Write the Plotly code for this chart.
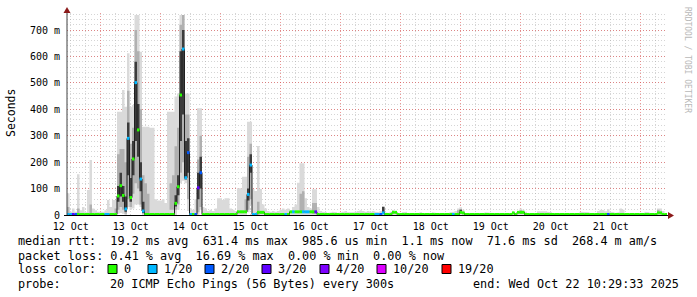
import plotly.graph_objects as go
from datetime import datetime, timedelta

# ---------------- data (hourly consolidated SmokePing values, ms) ----------------
start_time = datetime(2025, 10, 12, 10, 29, 33)
n_hours = 240

median_ms = [
    2, 2, 2, 2, 2, 2, 2, 2, 2, 2, 2, 2, 2, 2, 2, 2, 2, 2, 2, 2, 72, 111, 74, 23,
    290, 66, 212, 501, 322, 136, 15, 2, 2, 2, 2, 2, 2, 2, 2, 2, 2, 2, 2, 44, 107, 454, 628, 141,
    236, 2, 2, 2, 103, 160, 2, 2, 2, 2, 2, 2, 2, 2, 2, 2, 2, 2, 2, 2, 12, 12, 12, 12,
    78, 189, 2, 2, 10, 10, 10, 2, 2, 2, 2, 2, 2, 2, 2, 2, 2, 12, 12, 12, 12, 12, 12, 12,
    12, 12, 12, 12, 2, 2, 2, 2, 2, 2, 2, 2, 2, 2, 2, 2, 2, 2, 2, 2, 2, 2, 2, 2,
    2, 2, 2, 2, 2, 2, 8, 2, 2, 2, 10, 10, 2, 2, 2, 2, 2, 2, 2, 2, 2, 2, 2, 2,
    2, 2, 2, 2, 2, 2, 2, 2, 2, 2, 2, 2, 2, 10, 8, 2, 2, 2, 2, 2, 2, 2, 2, 2,
    2, 2, 2, 2, 2, 2, 2, 2, 2, 2, 8, 2, 10, 10, 10, 2, 2, 2, 2, 2, 2, 2, 2, 2,
    2, 2, 2, 2, 2, 2, 2, 2, 2, 2, 2, 2, 2, 2, 2, 2, 2, 2, 2, 2, 2, 2, 2, 2,
    2, 2, 2, 2, 2, 2, 2, 2, 2, 2, 2, 2, 2, 2, 2, 2, 2, 2, 2, 2, 8, 8, 2, 2,
]

loss_count = [
    1, 1, 3, 2, 0, 0, 0, 0, 0, 0, 0, 0, 0, 0, 0, 1, 1, 0, 0, 0, 0, 0, 0, 1,
    1, 0, 0, 1, 0, 1, 1, 0, 0, 0, 0, 0, 0, 0, 0, 0, 0, 0, 0, 0, 0, 0, 1, 1,
    2, 1, 0, 2, 3, 2, 0, 0, 0, 0, 0, 0, 0, 0, 0, 0, 0, 0, 0, 0, 0, 0, 0, 0,
    1, 1, 1, 1, 0, 0, 0, 0, 0, 0, 0, 0, 0, 0, 0, 1, 0, 0, 1, 0, 0, 0, 1, 1,
    1, 0, 0, 3, 0, 0, 0, 0, 0, 0, 0, 0, 0, 0, 0, 0, 0, 0, 0, 0, 0, 0, 0, 0,
    0, 0, 0, 1, 1, 2, 1, 0, 0, 0, 0, 0, 0, 0, 0, 0, 0, 0, 0, 0, 0, 0, 0, 0,
    0, 0, 0, 0, 0, 0, 0, 0, 0, 0, 1, 0, 0, 0, 0, 0, 0, 0, 0, 0, 0, 0, 0, 0,
    0, 0, 0, 0, 0, 0, 0, 0, 0, 0, 0, 0, 0, 0, 0, 0, 0, 0, 0, 0, 0, 0, 0, 0,
    0, 0, 0, 0, 0, 0, 0, 0, 0, 0, 0, 0, 0, 0, 0, 0, 0, 0, 0, 0, 0, 0, 0, 0,
    2, 0, 0, 0, 0, 0, 0, 0, 0, 0, 0, 0, 0, 0, 0, 0, 0, 0, 0, 0, 0, 0, 0, 0,
]

smoke_min_ms = [
    0, 0, 0, 0, 0, 0, 0, 0, 0, 0, 0, 0, 0, 0, 0, 0, 0, 0, 0, 0, 5, 8, 5, 0,
    30, 20, 25, 40, 40, 30, 0, 0, 0, 0, 0, 0, 0, 0, 0, 0, 0, 0, 0, 0, 20, 120, 130, 120,
    15, 0, 0, 0, 0, 20, 0, 0, 0, 0, 0, 0, 0, 0, 0, 0, 0, 0, 0, 0, 0, 0, 0, 0,
    10, 40, 0, 0, 0, 0, 0, 0, 0, 0, 0, 0, 0, 0, 0, 0, 0, 0, 0, 0, 0, 0, 0, 0,
    0, 0, 0, 0, 0, 0, 0, 0, 0, 0, 0, 0, 0, 0, 0, 0, 0, 0, 0, 0, 0, 0, 0, 0,
    0, 0, 0, 0, 0, 0, 0, 0, 0, 0, 0, 0, 0, 0, 0, 0, 0, 0, 0, 0, 0, 0, 0, 0,
    0, 0, 0, 0, 0, 0, 0, 0, 0, 0, 0, 0, 0, 0, 0, 0, 0, 0, 0, 0, 0, 0, 0, 0,
    0, 0, 0, 0, 0, 0, 0, 0, 0, 0, 0, 0, 0, 0, 0, 0, 0, 0, 0, 0, 0, 0, 0, 0,
    0, 0, 0, 0, 0, 0, 0, 0, 0, 0, 0, 0, 0, 0, 0, 0, 0, 0, 0, 0, 0, 0, 0, 0,
    0, 0, 0, 0, 0, 0, 0, 0, 0, 0, 0, 0, 0, 0, 0, 0, 0, 0, 0, 0, 0, 0, 0, 0,
]

smoke_max_ms = [
    82, 12, 25, 12, 154, 18, 30, 10, 95, 208, 25, 18, 12, 10, 12, 18, 57, 30, 57, 57, 391, 391, 473, 410,
    612, 410, 416, 757, 757, 618, 334, 334, 334, 330, 330, 60, 55, 55, 60, 45, 391, 391, 391, 448, 460, 757, 757, 460,
    460, 25, 20, 60, 404, 404, 30, 25, 15, 20, 15, 25, 63, 63, 57, 63, 63, 25, 20, 15, 101, 101, 145, 145,
    353, 353, 98, 91, 261, 98, 40, 25, 15, 12, 15, 12, 15, 20, 25, 20, 25, 15, 30, 40, 122, 196, 196, 63,
    30, 25, 97, 97, 30, 15, 12, 10, 8, 10, 12, 10, 8, 10, 12, 15, 10, 8, 10, 12, 15, 18, 15, 12,
    15, 12, 15, 12, 10, 15, 31, 10, 8, 12, 19, 15, 8, 6, 10, 12, 8, 6, 8, 6, 8, 10, 6, 8,
    6, 8, 10, 8, 6, 6, 8, 6, 8, 10, 12, 15, 25, 29, 20, 8, 6, 6, 8, 6, 6, 8, 6, 10,
    10, 8, 6, 6, 8, 6, 8, 6, 8, 6, 12, 8, 15, 25, 20, 12, 6, 8, 6, 8, 14, 16, 16, 14,
    12, 10, 8, 8, 8, 6, 6, 6, 5, 6, 5, 6, 8, 12, 10, 12, 10, 8, 6, 8, 15, 20, 18, 14,
    22, 12, 10, 8, 10, 25, 20, 8, 6, 5, 6, 5, 6, 6, 8, 12, 10, 6, 5, 8, 25, 25, 15, 6,
]

# denser part of the smoke (where most of the 20 pings fall)
mid_hours = [0, 4, 9, 19, 20, 21, 22, 23, 24, 25, 26, 27, 28, 29, 30, 31, 32,
             41, 42, 43, 44, 45, 46, 47, 48, 52, 53, 71, 72, 73, 76,
             93, 94, 98, 99, 126, 156, 157, 181, 236]
mid_lo_ms = [0, 0, 0, 0, 20, 30, 20, 5, 60, 30, 80, 120, 100, 40, 5, 5, 5,
             20, 20, 20, 40, 160, 200, 132, 60, 10, 30, 10, 20, 60, 0,
             10, 10, 5, 5, 5, 5, 5, 5, 5]
mid_hi_ms = [30, 25, 40, 25, 230, 250, 250, 200, 470, 270, 330, 700, 620, 400, 150, 120, 80,
             120, 150, 260, 330, 720, 757, 380, 380, 210, 300, 60, 220, 270, 50,
             80, 90, 45, 45, 25, 18, 22, 18, 20]

# darkest core of the smoke
dark_hours = [20, 21, 22, 23, 24, 25, 26, 27, 28, 29, 30, 43, 44, 45, 46, 47, 48, 52, 53,
              72, 73, 126, 157]
dark_lo_ms = [50, 70, 50, 12, 150, 50, 150, 280, 220, 90, 8, 32, 75, 280, 380, 135, 160, 60, 100,
              55, 160, 8, 8]
dark_hi_ms = [110, 160, 110, 70, 350, 140, 280, 580, 420, 200, 50, 75, 150, 620, 700, 280, 290, 160, 220,
              100, 230, 31, 20]

loss_levels = [0, 1, 2, 3, 4, 10, 19]
loss_labels = ["0", "1/20", "2/20", "3/20", "4/20", "10/20", "19/20"]
loss_colors = ["#26ff00", "#00b8ff", "#0059ff", "#5e00ff", "#7e00ff", "#dd00ff", "#ff0000"]

y_tick_values = [0, 100, 200, 300, 400, 500, 600, 700]
y_tick_labels = ["0", "100 m", "200 m", "300 m", "400 m", "500 m", "600 m", "700 m"]

legend_lines = [
    "median rtt:  19.2 ms avg  631.4 ms max  985.6 us min  1.1 ms now  71.6 ms sd  268.4 m am/s",
    "packet loss: 0.41 % avg  16.69 % max  0.00 % min  0.00 % now",
]
probe_text = "20 ICMP Echo Pings (56 Bytes) every 300s"
end_text = "end: Wed Oct 22 10:29:33 2025"

# ---------------- helpers ----------------
times = [start_time + timedelta(hours=h) for h in range(n_hours + 1)]
end_time = times[-1]


def band_trace(hours, lo, hi, color):
    """Step-shaped filled band, one polygon per run of consecutive hours."""
    runs = []
    cur = []
    for i, h in enumerate(hours):
        if cur and h != hours[cur[-1]] + 1:
            runs.append(cur)
            cur = []
        cur.append(i)
    if cur:
        runs.append(cur)
    xs, ys = [], []
    for run in runs:
        top_x, top_y, bot_x, bot_y = [], [], [], []
        for i in run:
            h = hours[i]
            top_x += [times[h], times[h + 1]]
            top_y += [hi[i], hi[i]]
            bot_x += [times[h], times[h + 1]]
            bot_y += [lo[i], lo[i]]
        xs += top_x + bot_x[::-1] + [top_x[0], None]
        ys += top_y + bot_y[::-1] + [top_y[0], None]
    return go.Scatter(x=xs, y=ys, mode="lines", fill="toself", fillcolor=color,
                      line=dict(width=0, color=color), hoverinfo="skip", xaxis="x", yaxis="y")


def loss_index(c):
    idx = 0
    for j, lv in enumerate(loss_levels):
        if c >= lv:
            idx = j
    return idx


def px(x):
    return (x - 67) / 600.0


def py(y):
    return (215 - y) / 202.0


fig = go.Figure()

all_hours = list(range(n_hours))
fig.add_trace(band_trace(all_hours, smoke_min_ms, smoke_max_ms, "#dadada"))
fig.add_trace(band_trace(mid_hours, mid_lo_ms, mid_hi_ms, "#b0b0b0"))
fig.add_trace(band_trace(dark_hours, dark_lo_ms, dark_hi_ms, "#3c3c3c"))

# black median line
fig.add_trace(go.Scatter(x=times, y=median_ms + [median_ms[-1]], mode="lines",
                         line=dict(color="#202020", width=1, shape="hv"), hoverinfo="skip"))

# loss-coloured median segments
for j, col in enumerate(loss_colors):
    xs, ys = [], []
    for h in range(n_hours):
        if loss_index(loss_count[h]) == j:
            xs += [times[h], times[h + 1], None]
            ys += [median_ms[h], median_ms[h], None]
    if xs:
        fig.add_trace(go.Scatter(x=xs, y=ys, mode="lines",
                                 line=dict(color=col, width=3), hoverinfo="skip"))

mono = "DejaVu Sans Mono"
red_grid = "rgba(225,80,80,0.6)"
gray_grid = "rgba(150,150,150,0.4)"
fig.update_layout(
    width=697, height=297,
    margin=dict(l=67, r=30, t=13, b=82),
    paper_bgcolor="white", plot_bgcolor="white",
    showlegend=False,
    font=dict(family=mono, size=10, color="black"),
    # labels: one per day, centred at noon
    xaxis=dict(
        type="date", range=[start_time, end_time],
        tick0="2025-10-12 12:00:00", dtick=86400000, tickformat="%d %b",
        showgrid=False, ticks="", showline=False, zeroline=False,
        ticklabelstandoff=4,
        tickfont=dict(family=mono, size=10, color="black"),
    ),
    # grid: red at midnight, gray every 6 hours
    xaxis2=dict(
        type="date", range=[start_time, end_time], overlaying="x", side="bottom",
        tick0="2025-10-13 00:00:00", dtick=86400000,
        showticklabels=False, ticks="", showline=False, zeroline=False,
        showgrid=True, gridcolor=red_grid, gridwidth=1, griddash="1px,2px",
        minor=dict(dtick=21600000, tick0="2025-10-13 00:00:00", showgrid=True,
                   gridcolor=gray_grid, griddash="1px,2px", gridwidth=1),
    ),
    yaxis=dict(
        range=[0, 764.4], tickvals=y_tick_values, ticktext=y_tick_labels,
        showgrid=True, gridcolor=red_grid, gridwidth=1, griddash="1px,2px",
        minor=dict(dtick=20, tick0=0, showgrid=True,
                   gridcolor=gray_grid, griddash="1px,2px", gridwidth=1),
        ticks="", showline=False, zeroline=False, ticklabelstandoff=6,
        tickfont=dict(family=mono, size=10, color="black"),
    ),
)
# invisible trace so the grid axis is drawn
fig.add_trace(go.Scatter(x=[start_time, end_time], y=[0, 0], xaxis="x2", yaxis="y",
                         mode="lines", line=dict(width=0), opacity=0, hoverinfo="skip"))

shapes = []
# axes
shapes.append(dict(type="line", xref="paper", yref="paper", x0=px(67), x1=px(67),
                   y0=py(216), y1=py(10), line=dict(color="#404040", width=1), layer="above"))
shapes.append(dict(type="line", xref="paper", yref="paper", x0=px(64), x1=px(669),
                   y0=py(215.5), y1=py(215.5), line=dict(color="black", width=1), layer="above"))
# arrows
shapes.append(dict(type="path", xref="paper", yref="paper",
                   path=f"M {px(63.5)} {py(13)} L {px(70.5)} {py(13)} L {px(67)} {py(7)} Z",
                   fillcolor="#8b1a1a", line=dict(width=0), layer="above"))
shapes.append(dict(type="path", xref="paper", yref="paper",
                   path=f"M {px(668)} {py(212)} L {px(668)} {py(219)} L {px(674)} {py(215.5)} Z",
                   fillcolor="#8b1a1a", line=dict(width=0), layer="above"))

annotations = []
annotations.append(dict(text="Seconds", x=px(11), y=py(113), xref="paper", yref="paper",
                        textangle=-90, showarrow=False, xanchor="center", yanchor="middle",
                        font=dict(family=mono, size=11.5, color="black")))
annotations.append(dict(text="RRDTOOL / TOBI OETIKER", x=px(688), y=py(60), xref="paper", yref="paper",
                        textangle=90, showarrow=False, xanchor="center", yanchor="middle",
                        font=dict(family=mono, size=8, color="#b8b8b8")))
line_y = [241, 256, 269, 284]
for k, txt in enumerate(legend_lines):
    annotations.append(dict(text=txt.replace(" ", "&nbsp;"), x=px(16), y=py(line_y[k]), xref="paper", yref="paper",
                            showarrow=False, xanchor="left", yanchor="middle",
                            font=dict(family=mono, size=11.8, color="black")))
annotations.append(dict(text="loss&nbsp;color:", x=px(16), y=py(line_y[2]), xref="paper", yref="paper",
                        showarrow=False, xanchor="left", yanchor="middle",
                        font=dict(family=mono, size=11.8, color="black")))
box_x = [108, 148, 205, 262, 320, 377, 442]
for bx, col, lab in zip(box_x, loss_colors, loss_labels):
    shapes.append(dict(type="rect", xref="paper", yref="paper",
                       x0=px(bx), x1=px(bx + 9), y0=py(line_y[2] + 4.5), y1=py(line_y[2] - 4.5),
                       fillcolor=col, line=dict(color="black", width=1), layer="above"))
    annotations.append(dict(text=lab, x=px(bx + 14), y=py(line_y[2]), xref="paper", yref="paper",
                            showarrow=False, xanchor="left", yanchor="middle",
                            font=dict(family=mono, size=11.8, color="black")))
annotations.append(dict(text="probe:", x=px(16), y=py(line_y[3]), xref="paper", yref="paper",
                        showarrow=False, xanchor="left", yanchor="middle",
                        font=dict(family=mono, size=11.8, color="black")))
annotations.append(dict(text=probe_text, x=px(108), y=py(line_y[3]), xref="paper", yref="paper",
                        showarrow=False, xanchor="left", yanchor="middle",
                        font=dict(family=mono, size=11.8, color="black")))
annotations.append(dict(text=end_text, x=px(681), y=py(line_y[3]), xref="paper", yref="paper",
                        showarrow=False, xanchor="right", yanchor="middle",
                        font=dict(family=mono, size=11.8, color="black")))

fig.update_layout(shapes=shapes, annotations=annotations)
fig.write_html("out.html")
